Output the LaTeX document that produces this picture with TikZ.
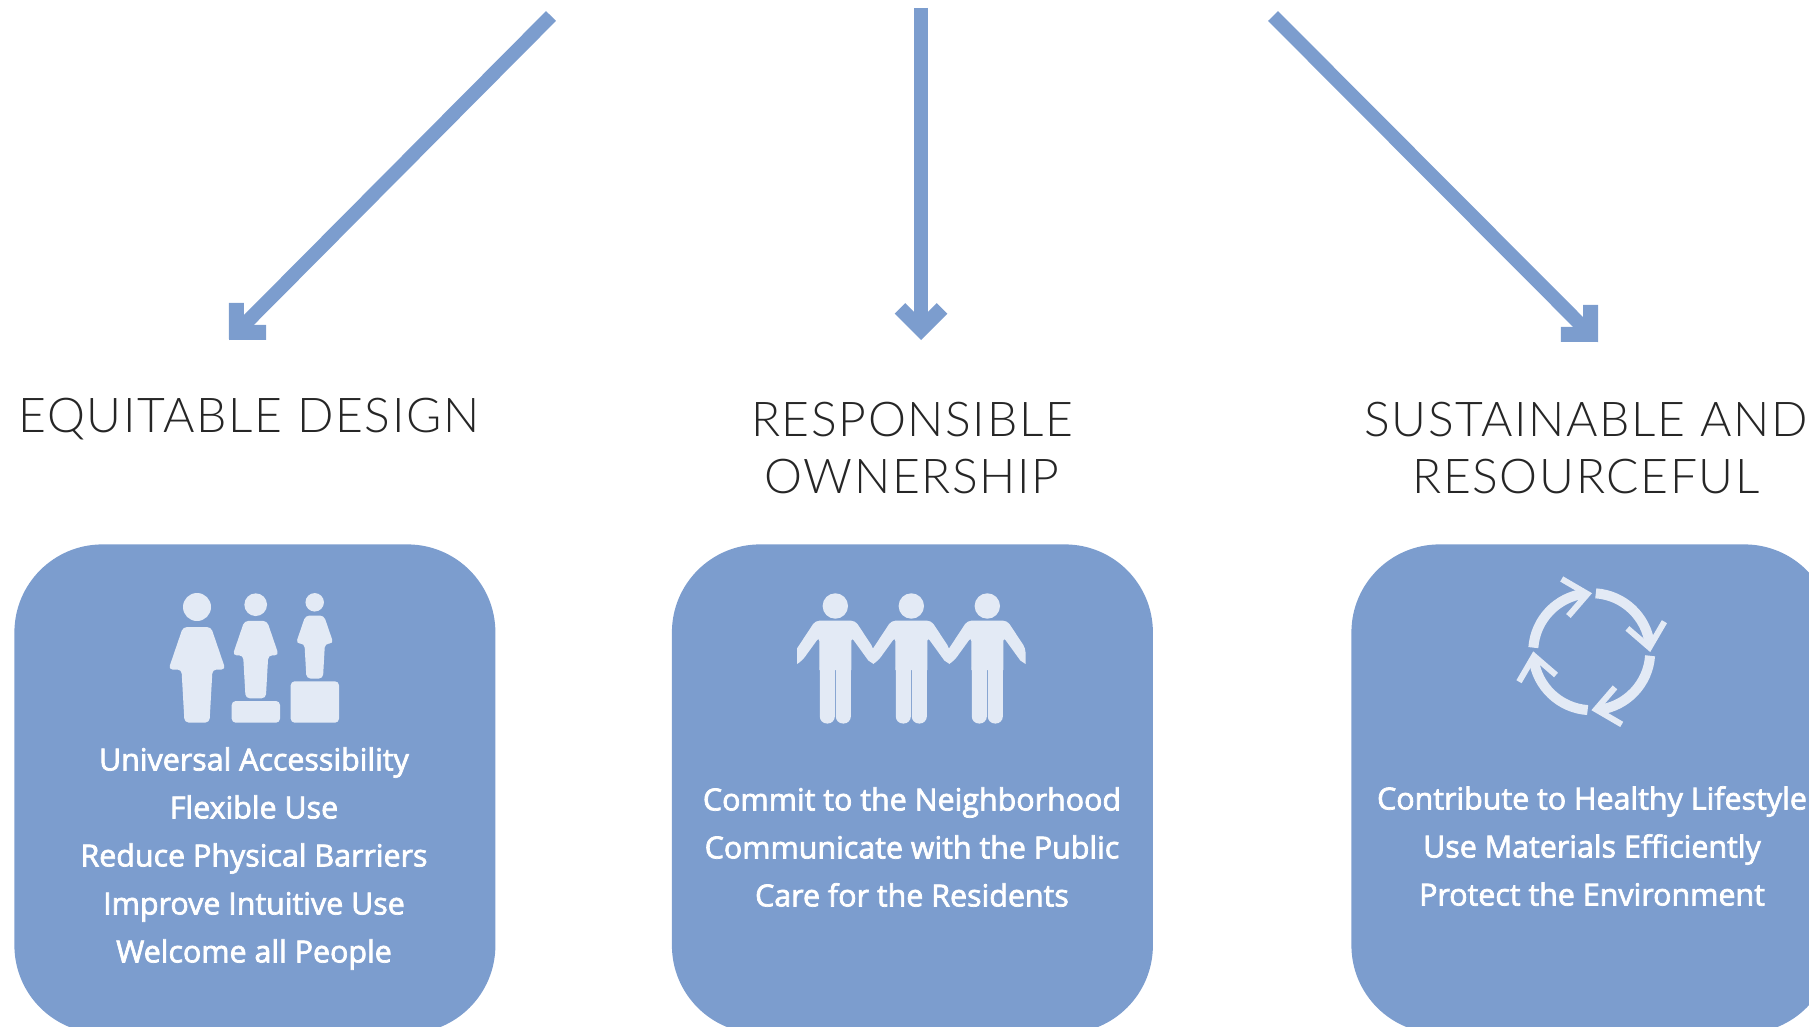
\documentclass[tikz,border=0pt]{standalone}
\usepackage{fontspec}
\usepackage{xcolor}
\setmainfont{Open Sans}[FakeBold=2.4]
\newfontfamily\headfont{Lato Light}[LetterSpace=3.4]
\usetikzlibrary{arrows.meta, positioning}
\definecolor{boxblue}{HTML}{7C9DCE}
\definecolor{iconpale}{HTML}{E3EAF5}
\tikzstyle{arrow} = [draw=boxblue, line width=7pt, -{Straight Barb[length=10.5pt,width=21pt,line width=7.5pt]}]
\tikzstyle{block} = [rectangle, fill=boxblue, rounded corners=44pt, minimum width=240.5pt, minimum height=244.5pt, anchor=north west, inner sep=0pt]
\tikzstyle{heading} = [font=\headfont\fontsize{24}{28.3}\selectfont, text=black!85, align=center]
\tikzstyle{body} = [font=\fontsize{15.2}{24}\selectfont, text=white, align=center]
\tikzstyle{icon} = [fill=iconpale, rounded corners=2pt]
\tikzset{
  tallman/.pic={
    \fill[iconpale] (0,0) circle (14);
    \path[icon] (-14,20) -- (14,20) -- (28.5,62.5) -- (15.5,62.5) -- (12.5,115.5) -- (-12.5,115.5) -- (-15.5,62.5) -- (-28.5,62.5) -- cycle;
  },
  handman/.pic={
    \fill[iconpale] (0,0) circle (12.7);
    \path[icon] (-20,14.7) -- (20,14.7) -- (38.2,42.3) [sharp corners] -- (38.2,58) -- (33,54.5) [rounded corners=2pt] -- (16,31) [sharp corners] -- (16,64) -- (-16,64) [rounded corners=2pt] -- (-16,31) -- (-33,54.5) [sharp corners] -- (-38.2,58) -- (-38.2,42.3) [rounded corners=2pt] -- cycle;
    \path[icon, rounded corners=3.5pt] (-15.5,55) rectangle (-0.5,117.5);
    \path[icon, rounded corners=3.5pt] (0.5,55) rectangle (15.5,117.5);
  },
  bentarrow/.pic={
    \draw[iconpale, line width=5pt] (184:58.5) arc (184:263:58.5);
    \draw[iconpale, line width=3pt, miter limit=10] (-30,-72.7) -- (-4.3,-57.7) -- (-23.3,-35.7);
  }
}

\begin{document}
\begin{tikzpicture}[x=0.5pt, y=-0.5pt]
    \clip (0,0) rectangle (1809,1027);

    \node (equitybox) [block] at (14,544) {};
    \node (ownerbox)  [block] at (671.5,544) {};
    \node (sustainbox) [block] at (1351,544) {};

    \node (equityhead)  [heading] at (249,419.5) {EQUITABLE DESIGN};
    \node (ownerhead)   [heading] at (912,448) {RESPONSIBLE\\OWNERSHIP};
    \node (sustainhead) [heading] at (1586,448) {SUSTAINABLE AND\\RESOURCEFUL};

    \node (equitytext)  [body] at (254,858.5) {Universal Accessibility\\Flexible Use\\Reduce Physical Barriers\\Improve Intuitive Use\\Welcome all People};
    \node (ownertext)   [body] at (912,847) {Commit to the Neighborhood\\Communicate with the Public\\Care for the Residents};
    \node (sustaintext) [body] at (1592,846) {Contribute to Healthy Lifestyle\\Use Materials Efficiently\\Protect the Environment};

    \coordinate (startA) at (551,16);
    \coordinate (tipA)   at (229,340);
    \coordinate (startB) at (921,8);
    \coordinate (tipB)   at (921,340);
    \coordinate (startC) at (1273,16);
    \coordinate (tipC)   at (1598,342);
    \draw [arrow] (startA) -- (tipA);
    \draw [arrow] (startB) -- (tipB);
    \draw [arrow] (startC) -- (tipC);

    % equitable icon
    \pic at (197,607) {tallman};
    \pic[scale=0.81] at (255.7,604.7) {tallman};
    \pic[scale=0.66] at (314.7,602.3) {tallman};
    \path[icon] (231.7,701) rectangle (280,722.7);
    \path[icon] (290.7,681.3) rectangle (339,722.7);

    % ownership icon
    \pic at (835.3,606) {handman};
    \pic at (911.3,606) {handman};
    \pic at (987.3,606) {handman};

    % sustainable icon
    \pic at (1591.7,651.7) {bentarrow};
    \pic[rotate=-90] at (1591.7,651.7) {bentarrow};
    \pic[rotate=-180] at (1591.7,651.7) {bentarrow};
    \pic[rotate=-270] at (1591.7,651.7) {bentarrow};
\end{tikzpicture}
\end{document}
